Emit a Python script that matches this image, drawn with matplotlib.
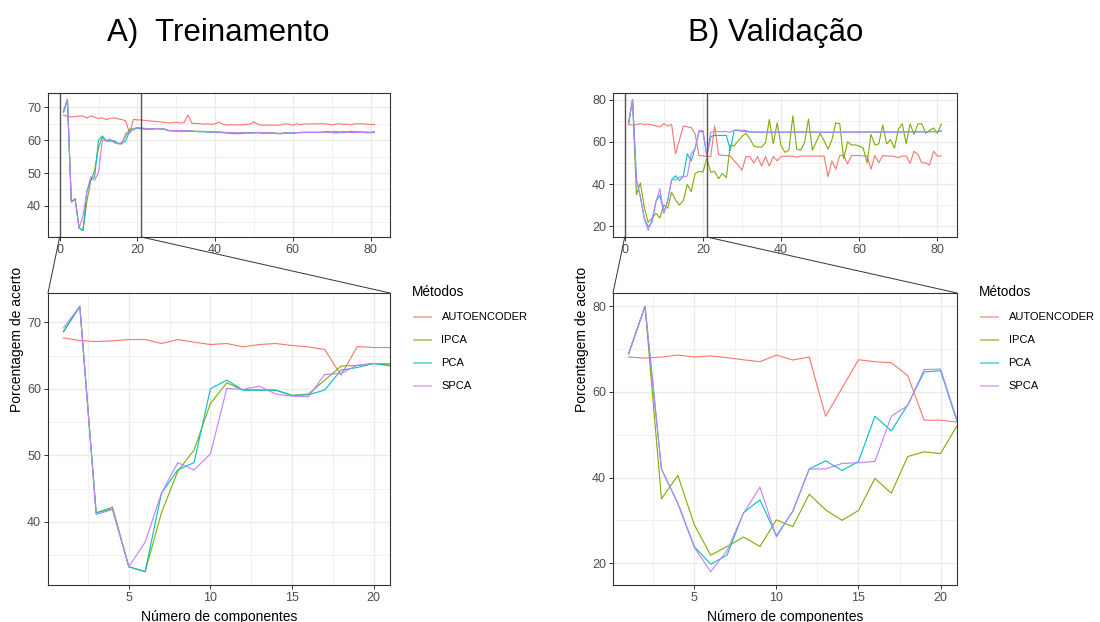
import matplotlib
matplotlib.use('Agg')
import matplotlib.pyplot as plt
from matplotlib.lines import Line2D
from matplotlib.patches import ConnectionPatch
from matplotlib.ticker import MultipleLocator

plt.rcParams['font.family'] = ['Liberation Sans', 'DejaVu Sans']

###dados (x = 1..81 componentes)
componentes = list(range(1, 82))
metodos = ['AUTOENCODER', 'IPCA', 'PCA', 'SPCA']
cores = ['#F8766D', '#7CAE00', '#00BFC4', '#C77CFF']

treino_auto = [67.65, 67.25, 67.1, 67.2, 67.4, 67.4, 66.8, 67.4, 67.0, 66.65, 66.8, 66.3, 66.65, 66.8, 66.5, 66.3, 65.9, 62.05, 66.35, 66.2, 66.2,
               66.0, 65.9, 65.8, 65.7, 65.6, 65.4, 65.3, 65.3, 65.5, 65.2,
               65.4, 67.7, 65.2, 65.1, 65.1, 64.9, 65.0, 64.8, 65.0, 65.5,
               64.9, 64.6, 64.7, 64.7, 64.7, 64.7, 64.8, 64.9, 65.6, 64.8,
               64.6, 64.6, 64.6, 64.6, 64.6, 64.7, 65.0, 64.9, 64.6, 65.0,
               64.7, 65.0, 64.9, 65.0, 65.0, 65.0, 65.0, 64.9, 64.7, 64.9,
               65.0, 64.8, 64.9, 64.7, 65.0, 65.0, 65.0, 64.9, 64.8, 64.8]
treino_ipca = [68.55, 72.4, 41.35, 42.2, 33.25, 32.5, 41.35, 47.6, 50.8, 57.8, 60.9, 59.8, 59.8, 59.8, 59.0, 59.2, 61.3, 63.4, 63.5, 63.8, 63.55,
               63.5, 63.4, 63.5, 63.6, 63.5, 63.4, 63.0, 62.9, 62.9, 62.8,
               62.9, 62.8, 62.8, 62.7, 62.7, 62.7, 62.6, 62.6, 62.5, 62.5,
               62.4, 62.3, 62.3, 62.2, 62.2, 62.2, 62.3, 62.3, 62.3, 62.3,
               62.2, 62.2, 62.3, 62.2, 62.1, 62.0, 62.3, 62.2, 62.2, 62.3,
               62.4, 62.4, 62.4, 62.4, 62.4, 62.4, 62.5, 62.5, 62.4, 62.6,
               62.5, 62.6, 62.5, 62.7, 62.6, 62.5, 62.5, 62.5, 62.4, 62.5]
treino_pca = [68.65, 72.4, 41.35, 41.95, 33.25, 32.5, 44.3, 47.8, 48.9, 60.0, 61.3, 59.8, 59.8, 59.8, 59.0, 59.1, 59.8, 62.8, 63.2, 63.8, 63.45,
              63.4, 63.4, 63.4, 63.5, 63.4, 63.3, 62.9, 62.8, 62.8, 62.8,
              62.8, 62.8, 62.7, 62.7, 62.6, 62.6, 62.5, 62.5, 62.4, 62.4,
              62.3, 62.2, 62.1, 62.0, 62.0, 62.1, 62.2, 62.2, 62.3, 62.3,
              62.2, 62.2, 62.2, 62.1, 62.0, 62.0, 62.2, 62.2, 62.2, 62.3,
              62.3, 62.4, 62.4, 62.4, 62.4, 62.4, 62.5, 62.6, 62.5, 62.5,
              62.4, 62.4, 62.4, 62.5, 62.4, 62.4, 62.4, 62.3, 62.3, 62.4]
treino_spca = [69.15, 72.4, 41.1, 41.85, 33.25, 36.95, 44.3, 48.9, 47.8, 50.2, 60.05, 59.9, 60.4, 59.2, 58.9, 58.8, 62.15, 62.3, 63.55, 63.8, 63.8,
               63.6, 63.5, 63.4, 63.6, 63.5, 63.3, 63.0, 62.9, 63.0, 62.9,
               62.8, 62.9, 62.8, 62.7, 62.6, 62.7, 62.6, 62.5, 62.5, 62.5,
               62.4, 62.4, 62.3, 62.3, 62.2, 62.3, 62.3, 62.2, 62.2, 62.4,
               62.3, 62.2, 62.3, 62.2, 62.1, 62.1, 62.2, 62.1, 62.3, 62.3,
               62.4, 62.3, 62.4, 62.4, 62.4, 62.3, 62.4, 62.5, 62.3, 62.2,
               62.3, 62.3, 62.4, 62.4, 62.3, 62.4, 62.4, 62.3, 62.4, 62.5]

valid_auto = [68.15, 67.9, 68.15, 68.6, 68.15, 68.4, 68.0, 67.5, 67.05, 68.6, 67.45, 68.15, 54.3, 60.9, 67.5, 67.05, 66.8, 63.8, 53.4, 53.4, 52.95,
              53.0, 67.5, 54.0, 53.5, 53.5, 53.3, 51.0, 49.0, 46.5, 53.0,
              53.0, 50.0, 53.0, 48.5, 53.0, 48.5, 53.0, 51.0, 53.0, 53.2,
              53.2, 53.2, 52.7, 53.2, 53.2, 53.2, 53.2, 53.2, 53.2, 53.2,
              43.5, 51.0, 47.0, 53.5, 53.5, 49.5, 53.5, 53.5, 53.5, 53.3,
              53.3, 47.0, 53.5, 50.0, 53.5, 53.2, 53.3, 53.0, 52.5, 53.3,
              53.3, 49.7, 55.5, 54.0, 50.0, 50.0, 49.0, 55.5, 53.2, 53.2]
valid_ipca = [68.9, 80.0, 35.0, 40.5, 29.0, 21.85, 23.9, 26.1, 23.9, 30.1, 28.55, 36.1, 32.45, 30.0, 32.3, 39.8, 36.35, 44.9, 46.0, 45.6, 52.1,
              45.5, 46.0, 42.5, 45.0, 43.0, 58.5, 58.0, 60.5, 62.5, 64.0,
              61.5, 58.0, 57.5, 57.5, 59.5, 70.5, 59.0, 69.0, 58.0, 55.0,
              56.0, 72.3, 56.5, 56.0, 59.5, 70.8, 56.0, 60.0, 64.0, 60.5,
              56.5, 61.0, 69.0, 68.5, 52.0, 60.0, 58.5, 58.5, 58.0, 57.0,
              50.0, 63.5, 58.5, 59.0, 68.0, 59.0, 61.0, 57.0, 66.0, 68.5,
              59.0, 68.5, 63.5, 68.5, 68.5, 64.0, 65.5, 66.5, 64.0, 68.5]
valid_pca = [68.9, 80.0, 42.0, 34.0, 23.9, 19.75, 21.9, 31.8, 34.8, 26.4, 32.1, 42.0, 43.9, 41.65, 43.75, 54.3, 50.9, 57.0, 64.65, 64.95, 53.1,
             62.5, 63.0, 63.0, 63.0, 63.0, 56.0, 65.5, 65.3, 65.0, 64.8,
             64.6, 64.6, 64.5, 64.5, 64.5, 64.5, 64.5, 64.5, 64.5, 64.5,
             64.5, 64.5, 64.6, 64.6, 64.6, 64.6, 64.5, 64.5, 64.5, 64.5,
             64.5, 64.5, 64.5, 64.5, 64.6, 64.6, 64.6, 64.6, 64.6, 64.6,
             64.6, 64.6, 64.6, 64.6, 64.6, 64.6, 64.6, 64.6, 64.6, 64.6,
             64.7, 64.7, 64.7, 64.7, 64.7, 64.7, 64.7, 64.8, 64.8, 65.2]
valid_spca = [68.9, 80.0, 42.0, 33.9, 23.7, 18.0, 22.95, 31.7, 37.75, 26.1, 32.2, 42.0, 42.0, 43.3, 43.45, 43.75, 54.3, 56.8, 65.2, 65.35, 53.5,
              64.5, 64.8, 64.8, 64.8, 64.8, 64.5, 65.5, 65.6, 65.5, 65.4,
              64.7, 64.6, 64.6, 64.6, 64.6, 64.6, 64.6, 64.6, 64.6, 64.6,
              64.6, 64.6, 64.6, 64.6, 64.6, 64.6, 64.6, 64.6, 64.6, 64.6,
              64.6, 64.6, 64.6, 64.6, 64.6, 64.6, 64.6, 64.6, 64.6, 64.6,
              64.6, 64.6, 64.6, 64.6, 64.6, 64.6, 64.6, 64.6, 64.6, 64.6,
              64.7, 64.7, 64.7, 64.7, 64.7, 64.7, 64.8, 64.8, 64.8, 65.0]

W, H = 1100, 622
fig = plt.figure(figsize=(11, 6.22), dpi=100)


def caixa(x0, y0, x1, y1):
    # pixel box (from top-left) -> figure fraction
    return [x0 / W, 1 - y1 / H, (x1 - x0) / W, (y1 - y0) / H]


def estilo(ax, xmaj, ymaj):
    ax.xaxis.set_major_locator(MultipleLocator(xmaj))
    ax.xaxis.set_minor_locator(MultipleLocator(xmaj / 2))
    ax.yaxis.set_major_locator(MultipleLocator(ymaj))
    ax.yaxis.set_minor_locator(MultipleLocator(ymaj / 2))
    ax.grid(which='major', color='#EBEBEB', lw=1.0)
    ax.grid(which='minor', color='#EBEBEB', lw=0.5)
    ax.set_axisbelow(True)
    for s in ax.spines.values():
        s.set_color('#333333')
        s.set_linewidth(0.8)
    ax.tick_params(which='major', length=2.75, width=0.7, color='#333333',
                   labelcolor='#4D4D4D', labelsize=9)
    ax.tick_params(axis='x', pad=2.6)
    ax.tick_params(axis='y', pad=2.2)
    ax.tick_params(which='minor', length=0)


def painel(x0, x1, series, ymaj, titulo, tx, xleg):
    ax_top = fig.add_axes(caixa(x0, 93, x1, 237))
    ax_bot = fig.add_axes(caixa(x0, 293, x1, 585))
    todos = [v for s in series for v in s]
    lo, hi = min(todos), max(todos)
    pad = 0.05 * (hi - lo)
    for ax in (ax_top, ax_bot):
        for s, c in zip(series, cores):
            ax.plot(componentes, s, color=c, lw=0.8)
        ax.set_ylim(lo - pad, hi + pad)
    ax_top.set_xlim(-3, 85)
    ax_bot.set_xlim(0.05, 21)
    estilo(ax_top, 20, ymaj)
    estilo(ax_bot, 5, ymaj)

    # zoom region
    for xv in (0, 21):
        ax_top.axvline(xv, color='#555555', lw=1.0)
    for xa, xb in ((0, 0), (21, 1)):
        con = ConnectionPatch(xyA=(xa, 0), coordsA=ax_top.get_xaxis_transform(),
                              xyB=(xb, 1), coordsB=ax_bot.transAxes,
                              color='#333333', lw=0.7)
        fig.add_artist(con)

    fig.text(tx / W, 1 - 41 / H, titulo, ha='center', va='baseline', size=22.5)
    fig.text((x0 - 31) / W, 1 - 339 / H, 'Porcentagem de acerto', rotation=90,
             ha='center', va='center', size=10)
    fig.text((x0 + x1) / 2 / W, 1 - 621 / H, 'Número de componentes',
             ha='center', va='baseline', size=10)

    # legenda
    fig.text(xleg / W, 1 - 292 / H, 'Métodos', ha='left', va='center', size=9.8)
    for i, (m, c) in enumerate(zip(metodos, cores)):
        yy = 1 - (317 + 23 * i) / H
        fig.add_artist(Line2D([(xleg + 2) / W, (xleg + 19) / W], [yy, yy],
                              color=c, lw=1.4, alpha=0.55))
        fig.text((xleg + 29.5) / W, yy, m, ha='left', va='center', size=8)


painel(48, 390, [treino_auto, treino_ipca, treino_pca, treino_spca], 10,
       'A)  Treinamento', 218, 412)
painel(613, 957, [valid_auto, valid_ipca, valid_pca, valid_spca], 20,
       'B) Validação', 776, 979)

plt.savefig('out.png', dpi=100)
plt.close()
